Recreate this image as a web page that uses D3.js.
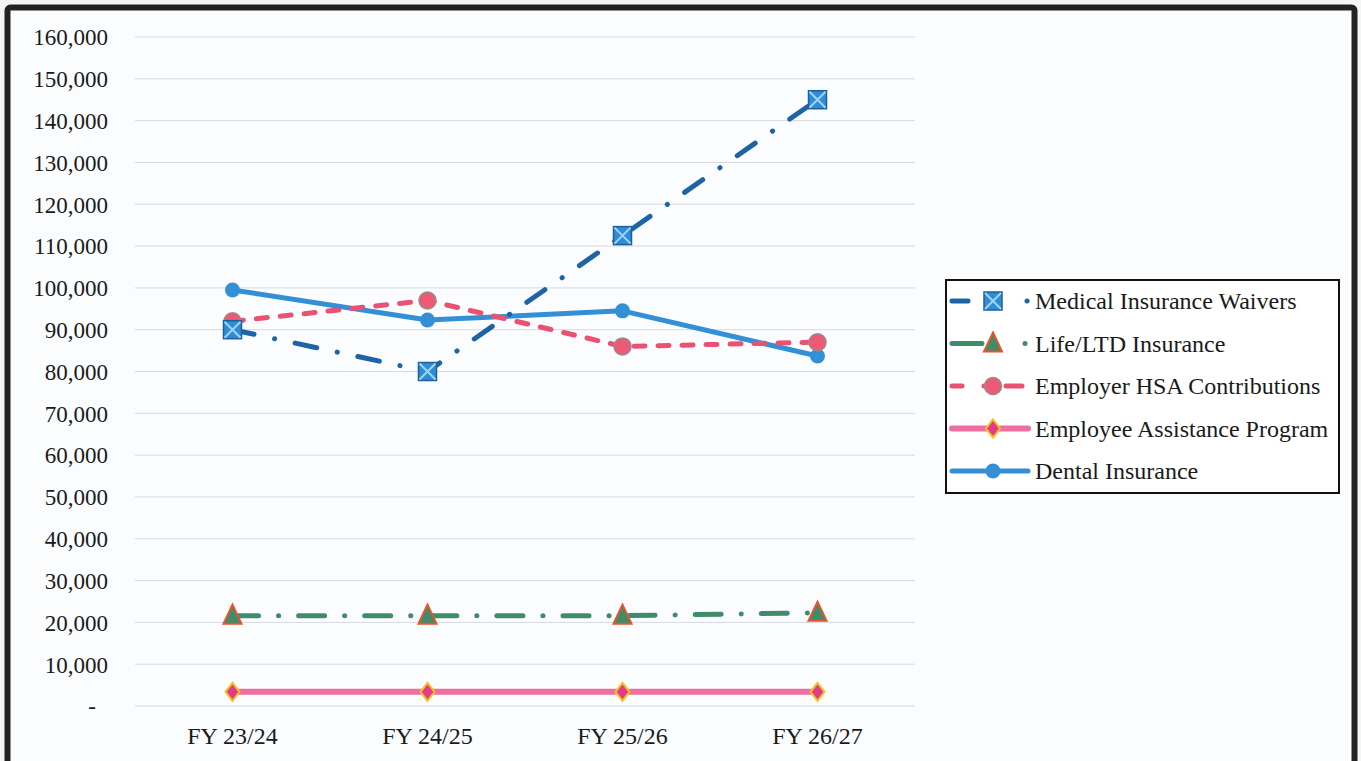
<!DOCTYPE html>
<html>
<head>
<meta charset="utf-8">
<script src="https://cdn.jsdelivr.net/npm/d3@7"></script>
<style>
  html, body { margin: 0; padding: 0; background: #f4f6f6; }
  svg { display: block; }
</style>
</head>
<body>
<svg id="chart" width="1361" height="761"></svg>
<script>
// Fiscal years on the x axis
const categories = ["FY 23/24", "FY 24/25", "FY 25/26", "FY 26/27"];

// Annual cost per benefit line
const medicalWaivers = [90000, 80000, 112500, 145000];
const lifeLtd = [21600, 21600, 21600, 22300];
const hsaContributions = [92000, 97000, 86000, 87000];
const eapProgram = [3400, 3400, 3400, 3400];
const dentalInsurance = [99500, 92300, 94500, 83700];

// Y axis ticks
const yTicks = d3.range(0, 160001, 10000);

const FONT = "'Liberation Serif', 'Times New Roman', Tinos, serif";

const series = [
  { name: "Medical Insurance Waivers", values: medicalWaivers, color: "#1d63a6", width: 5,
    dash: "22,21,0.1,21", legendDash: "16,59,0.1,100",
    marker: "xsquare", mFill: "#2f8ed3", mStroke: "#1d5f9e" },
  { name: "Life/LTD Insurance", values: lifeLtd, color: "#3f8c6b", width: 5,
    dash: "26,20,0.1,20", legendDash: "30,43,0.1,100",
    marker: "triangle", mFill: "#3f8c6b", mStroke: "#e8542c" },
  { name: "Employer HSA Contributions", values: hsaContributions, color: "#ea5173", width: 5,
    dash: "11,13", legendDash: "10,22,12,10,16,100",
    marker: "circle", mFill: "#ee5a76", mStroke: "#9a8a8a" },
  { name: "Employee Assistance Program", values: eapProgram, color: "#ec6fa0", width: 6,
    dash: null, legendDash: null,
    marker: "diamond", mFill: "#e33a8c", mStroke: "#f4c21e" },
  { name: "Dental Insurance", values: dentalInsurance, color: "#3490d6", width: 5,
    dash: null, legendDash: null,
    marker: "dot", mFill: "#3490d6", mStroke: "#3490d6" }
];

const svg = d3.select("#chart");

// Frame and panel
svg.append("rect").attr("x", 7.5).attr("y", 7.5).attr("width", 1347).attr("height", 770)
  .attr("fill", "#fbfcfe").attr("stroke", "#222").attr("stroke-width", 6).attr("rx", 3);

const x = d3.scaleBand().domain(categories).range([135, 915]);
const y = d3.scaleLinear().domain([0, 160000]).range([706, 37]);

// Gridlines
svg.append("g").selectAll("line").data(yTicks).join("line")
  .attr("x1", 135).attr("x2", 915)
  .attr("y1", d => y(d)).attr("y2", d => y(d))
  .attr("stroke", "#d5d9e0").attr("stroke-width", 1);

// Y axis labels
const yAxis = d3.axisLeft(y).tickValues(yTicks).tickSize(0).tickPadding(0)
  .tickFormat(d => d === 0 ? "-" : d3.format(",")(d));
const gy = svg.append("g").attr("transform", "translate(108,0)").call(yAxis)
  .attr("font-family", FONT).attr("font-size", 23);
gy.select(".domain").remove();
gy.selectAll("text").attr("fill", "#1a1a1a").attr("dy", "0.34em");
gy.selectAll(".tick").filter(d => d === 0).select("text").attr("x", -12);

// X axis labels
const xAxis = d3.axisBottom(x).tickSize(0).tickPadding(0);
const gx = svg.append("g").attr("transform", "translate(0,727)").call(xAxis)
  .attr("font-family", FONT).attr("font-size", 24);
gx.select(".domain").remove();
gx.selectAll("text").attr("fill", "#1a1a1a").attr("dy", "0.7em");

const cx = c => x(c) + x.bandwidth() / 2;

function drawMarker(g, type, px, py, s) {
  const k = g.append("g").attr("transform", `translate(${px},${py})`);
  if (type === "xsquare") {
    k.append("rect").attr("x", -9).attr("y", -9).attr("width", 18).attr("height", 18)
      .attr("fill", s.mFill).attr("stroke", s.mStroke).attr("stroke-width", 1.5);
    k.append("path").attr("d", "M-8,-8L8,8M8,-8L-8,8").attr("stroke", "#9fd3f2").attr("stroke-width", 2);
  } else if (type === "triangle") {
    k.append("path").attr("d", "M0,-11L9,8L-9,8Z")
      .attr("fill", s.mFill).attr("stroke", s.mStroke).attr("stroke-width", 2);
  } else if (type === "circle") {
    k.append("circle").attr("r", 8.5).attr("fill", s.mFill).attr("stroke", s.mStroke).attr("stroke-width", 1.5);
  } else if (type === "diamond") {
    k.append("path").attr("d", "M0,-9L7,0L0,9L-7,0Z")
      .attr("fill", s.mFill).attr("stroke", s.mStroke).attr("stroke-width", 2);
  } else if (type === "dot") {
    k.append("circle").attr("r", 7.5).attr("fill", s.mFill);
  }
}

const line = d3.line().x((d, i) => cx(categories[i])).y(d => y(d));

// Series are drawn in reverse so the first one ends up on top
const plot = svg.append("g");
series.slice().reverse().forEach(s => {
  plot.append("path").datum(s.values).attr("d", line)
    .attr("fill", "none").attr("stroke", s.color).attr("stroke-width", s.width)
    .attr("stroke-linecap", "round").attr("stroke-linejoin", "round")
    .attr("stroke-dasharray", s.dash);
  s.values.forEach((v, i) => drawMarker(plot, s.marker, cx(categories[i]), y(v), s));
});

// Legend
const lg = svg.append("g").attr("font-family", FONT).attr("font-size", 24);
lg.append("rect").attr("x", 946).attr("y", 280).attr("width", 393).attr("height", 213)
  .attr("fill", "#ffffff").attr("stroke", "#111").attr("stroke-width", 2);
series.forEach((s, i) => {
  const ly = 301 + i * 42.5;
  lg.append("line").attr("x1", 952).attr("x2", 1028).attr("y1", ly).attr("y2", ly)
    .attr("stroke", s.color).attr("stroke-width", s.width).attr("stroke-linecap", "round")
    .attr("stroke-dasharray", s.legendDash);
  drawMarker(lg, s.marker, 993, ly, s);
  lg.append("text").attr("x", 1035).attr("y", ly).attr("dy", "0.35em")
    .attr("fill", "#1a1a1a").text(s.name);
});
</script>
</body>
</html>
